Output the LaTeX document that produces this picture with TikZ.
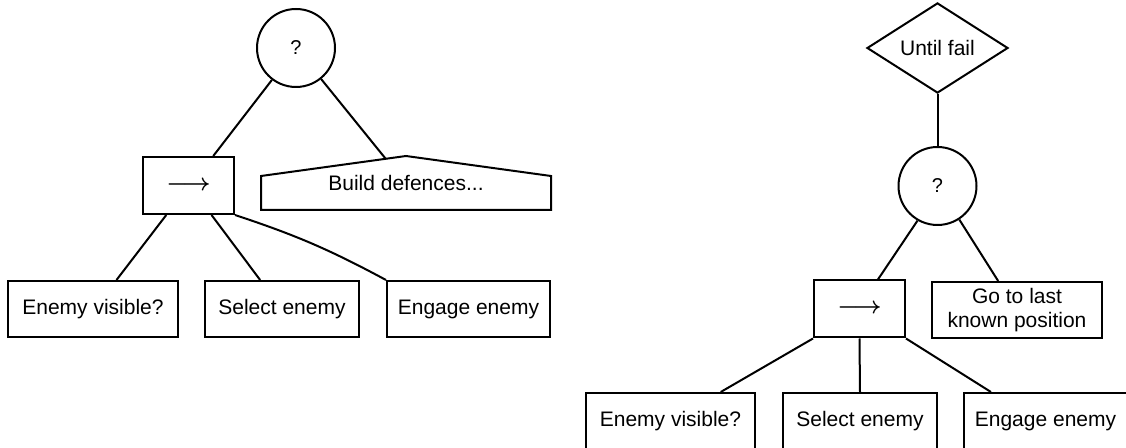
\documentclass[tikz,border=0pt]{standalone}
\usepackage{fontspec}
\setmainfont{Liberation Sans}
\usetikzlibrary{shapes.geometric, calc}
\tikzstyle{link}=[line width=1pt]
\tikzstyle{selcirc}=[circle, draw, line width=1pt, minimum size=39pt, inner sep=0pt, font=\fontsize{10}{12}\selectfont]
\tikzstyle{seqbox}=[rectangle, draw, line width=1pt, minimum width=45.5pt, minimum height=28.5pt, inner sep=0pt, font=\fontsize{13}{15}\selectfont\boldmath]
\tikzstyle{task}=[rectangle, draw, line width=1pt, minimum height=28pt, inner sep=0pt, align=center, font=\fontsize{10.5}{12}\selectfont]
\tikzstyle{deco}=[diamond, draw, line width=1pt, minimum width=70.5pt, minimum height=42pt, inner sep=0pt, font=\fontsize{10.5}{12}\selectfont]

\begin{document}
\begin{tikzpicture}[x=0.5pt, y=-0.5pt]
	\useasboundingbox (0,0) rectangle (1126,448);

	% Left tree
	\node[selcirc] (sel1) at (296,48) {?};
	\node[seqbox] (seq1) at (188.5,185.5) {$\longrightarrow$};
	\node[task, draw=none, minimum width=144pt, minimum height=26pt] (bd) at (406,183) {Build defences...};
	\draw[link] (bd.south west) -- (bd.south east) -- ([yshift=-10pt]bd.north east)
		-- (bd.north) -- ([yshift=-10pt]bd.north west) -- cycle;
	\coordinate (bdtop) at ($(bd.north)!0.14!([yshift=-10pt]bd.north west)$);

	\node[task, minimum width=85pt] (ev1) at (93,309) {Enemy visible?};
	\node[task, minimum width=77pt] (se1) at (282,309) {Select enemy};
	\node[task, minimum width=81.5pt] (ee1) at (468.5,309) {Engage enemy};

	\draw[link] (sel1.-127) -- (seq1.50);
	\draw[link] (sel1.-51) -- (bdtop);
	\draw[link] (seq1.-127) -- (ev1.51);
	\draw[link] (seq1.-52) -- (se1.127);
	\draw[link] (seq1.south east) to[bend left=5] (ee1.north west);

	% Right tree
	\node[deco] (uf) at (937.5,48) {Until fail};
	\node[selcirc] (sel2) at (937.5,186) {?};
	\node[seqbox] (seq2) at (859.5,309) {$\longrightarrow$};
	\node[task, minimum width=85pt] (go) at (1017,310) {Go to last\\known position};

	\node[task, minimum width=84.5pt] (ev2) at (670.5,421) {Enemy visible?};
	\node[task, minimum width=77pt] (se2) at (860,421) {Select enemy};
	\node[task, minimum width=81.5pt] (ee2) at (1045.5,421) {Engage enemy};

	\draw[link] (uf.south) -- (sel2.north);
	\draw[link] (sel2.-120) -- (seq2.58);
	\draw[link] (sel2.-57) -- (go.123);
	\draw[link] (seq2.south west) -- (ev2.30);
	\draw[link] (seq2.south) -- (se2.north);
	\draw[link] (seq2.south east) -- (ee2.152);
\end{tikzpicture}
\end{document}
